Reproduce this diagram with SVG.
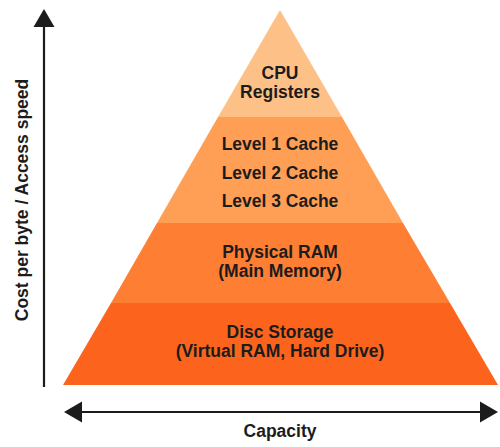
<svg xmlns="http://www.w3.org/2000/svg" width="500" height="447" viewBox="0 0 500 447">
  <style>
    .lbl { font-family: "Liberation Sans", Arial, sans-serif; font-weight: bold; font-size: 17.5px; fill: #1c1c1c; text-anchor: middle; }
    .axis { stroke: #1c1c1c; stroke-width: 2.2; fill: none; }
    .head { fill: #1c1c1c; }
  </style>

  <!-- pyramid tiers, apex (280,10), base y=385 from x=63 to x=498 -->
  <g id="tier-registers">
    <polygon points="280,10 342,117 218,117" fill="#fdc188"/>
    <text class="lbl" x="280" y="78.5">CPU</text>
    <text class="lbl" x="280" y="98">Registers</text>
  </g>
  <g id="tier-cache">
    <polygon points="218,117 342,117 403,223 157,223" fill="#fe9f55"/>
    <text class="lbl" x="280" y="150">Level 1 Cache</text>
    <text class="lbl" x="280" y="178.5">Level 2 Cache</text>
    <text class="lbl" x="280" y="207">Level 3 Cache</text>
  </g>
  <g id="tier-ram">
    <polygon points="157,223 403,223 450,303 111,303" fill="#fe7f33"/>
    <text class="lbl" x="280" y="258">Physical RAM</text>
    <text class="lbl" x="280" y="277">(Main Memory)</text>
  </g>
  <g id="tier-disc">
    <polygon points="111,303 450,303 498,385 63,385" fill="#fc641d"/>
    <text class="lbl" x="280" y="338">Disc Storage</text>
    <text class="lbl" x="280" y="357">(Virtual RAM, Hard Drive)</text>
  </g>

  <!-- axes -->
  <g id="connectors">
    <line class="axis" x1="44" y1="387" x2="44" y2="24"/>
    <polygon class="head" points="44,9 54.5,27 33.5,27"/>
    <line class="axis" x1="78" y1="412" x2="484" y2="412"/>
    <polygon class="head" points="64,412 82,401.5 82,422.5"/>
    <polygon class="head" points="498,412 480,401.5 480,422.5"/>
  </g>

  <text class="lbl" x="280" y="437">Capacity</text>
  <text class="lbl" transform="translate(27.5,200) rotate(-90)" x="0" y="0">Cost per byte / Access speed</text>
</svg>
